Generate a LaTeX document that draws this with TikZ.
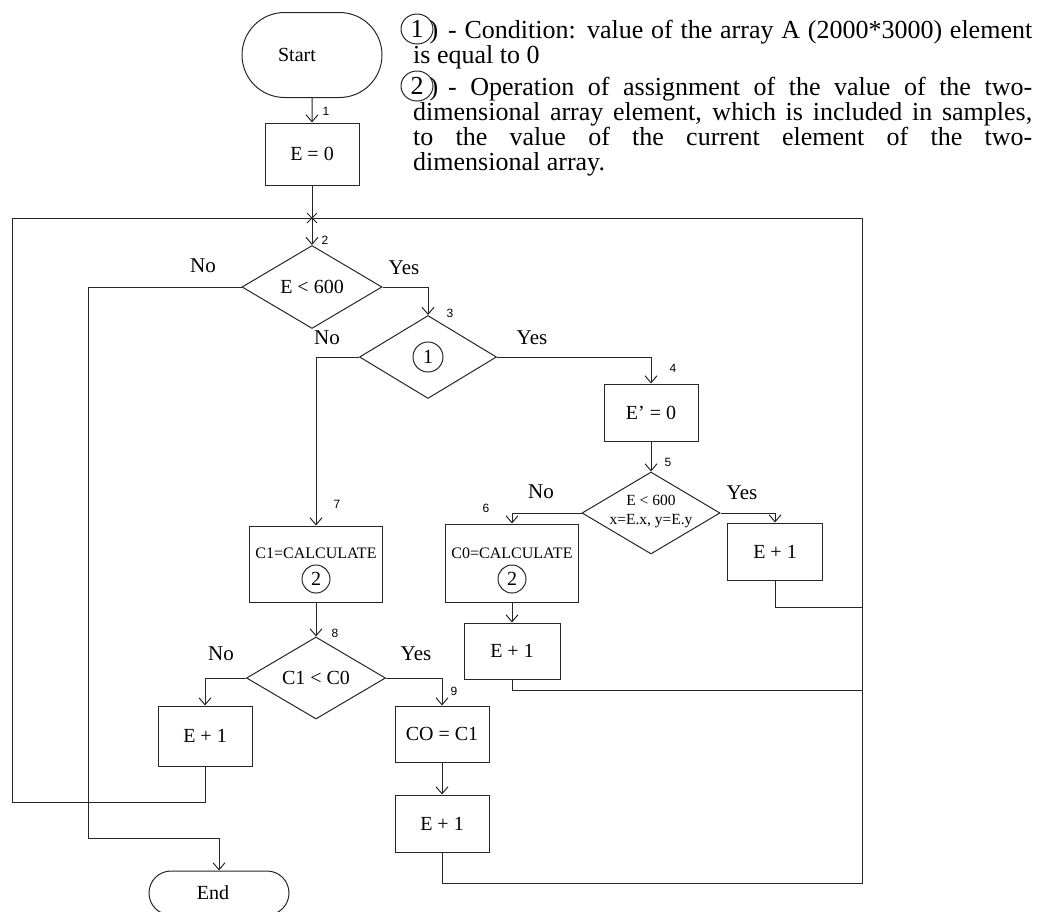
\documentclass[tikz,border=0pt]{standalone}
\usepackage{fontspec}
\setmainfont{Liberation Serif}
\newfontfamily\numfont{Liberation Sans}
\usetikzlibrary{arrows.meta,shapes.geometric,shapes.misc,calc}
\tikzset{
  flow/.style={line width=1pt, draw=black!85},
  arr/.style={flow, -{Straight Barb[length=7pt,width=12pt]}},
  procbox/.style={flow, rectangle, inner sep=0pt, font=\fontsize{20}{22}\selectfont},
  decision/.style={flow, diamond, inner sep=0pt},
  term/.style={flow, rounded rectangle, inner sep=0pt, font=\fontsize{20}{22}\selectfont},
  dtext/.style={font=\fontsize{20}{22}\selectfont, inner sep=0pt},
  ytext/.style={font=\fontsize{21}{22}\selectfont, inner sep=0pt},
  smalltext/.style={font=\fontsize{16}{18}\selectfont, inner sep=0pt},
  numlbl/.style={font=\numfont\fontsize{12}{13}\selectfont, inner sep=0pt},
  circnum/.style={flow, circle, inner sep=0pt, minimum size=28pt, font=\fontsize{20}{22}\selectfont},
  legcirc/.style={flow, ellipse, inner sep=0pt, minimum width=32pt, minimum height=30pt, font=\fontsize{26}{26}\selectfont},
  legparen/.style={inner sep=0pt, font=\fontsize{26}{26}\selectfont},
  legline/.style={anchor=base west, inner sep=0pt, font=\fontsize{26}{26}\selectfont},
}
\begin{document}
\begin{tikzpicture}[x=1pt,y=-1pt]
\useasboundingbox (0,0) rectangle (1043,911);

% legend
\node[legcirc] (lc1) at (417,29) {1};
\node[legparen, anchor=base] at (434,38) {)};
\node[legline] (lg1) at (448,38) {\makebox[584pt][s]{- Condition: value of the array A (2000*3000) element}};
\node[legline] (lg2) at (413,63) {is equal to 0};
\node[legcirc] (lc2) at (417,86) {2};
\node[legparen, anchor=base] at (434,95) {)};
\node[legline] (lg3) at (448,95) {\makebox[584pt][s]{- Operation of assignment of the value of the two-}};
\node[legline] (lg4) at (413,120) {\makebox[619pt][s]{dimensional array element, which is included in samples,}};
\node[legline] (lg5) at (413,145) {\makebox[619pt][s]{to the value of the current element of the two-}};
\node[legline] (lg6) at (413,170) {dimensional array.};

% nodes
\node[term, minimum width=140pt, minimum height=85pt] (start) at (312,55) {Start\hspace*{30pt}};
\node[procbox, minimum width=94pt, minimum height=62pt] (e0) at (312,154) {E = 0};
\coordinate (j) at (312,218);
\node[decision, minimum width=140pt, minimum height=83pt] (d1) at (312,287) {};
\node[dtext] at (d1) {E < 600};
\node[decision, minimum width=137pt, minimum height=83pt] (d2) at (428,357) {};
\node[circnum, minimum size=30pt] (c1mark) at (d2) {1};
\node[procbox, minimum width=94pt, minimum height=57pt] (ep) at (651,412.5) {E’ = 0};
\node[decision, minimum width=138pt, minimum height=82pt] (d3) at (651,513) {};
\node[font=\fontsize{15.5}{19}\selectfont, align=center, inner sep=0pt] at (651,512) {E < 600\\x=E.x, y=E.y};
\node[procbox, minimum width=133pt, minimum height=78pt] (c0) at (512,563) {};
\node[smalltext] at (512,553) {C0=CALCULATE};
\node[circnum] at (512,579) {2};
\node[procbox, minimum width=95pt, minimum height=57pt] (e1a) at (775,551.5) {E + 1};
\node[procbox, minimum width=96pt, minimum height=56pt] (e1b) at (512,651) {E + 1};
\node[procbox, minimum width=133pt, minimum height=76pt] (c1) at (316,564) {};
\node[smalltext] at (316,553) {C1=CALCULATE};
\node[circnum] at (316,579) {2};
\node[decision, minimum width=139pt, minimum height=82pt] (d4) at (316,678) {};
\node[dtext] at (d4) {C1 < C0};
\node[procbox, minimum width=94pt, minimum height=60pt] (e1c) at (205,736) {E + 1};
\node[procbox, minimum width=94pt, minimum height=56pt] (co) at (442,734) {CO = C1};
\node[procbox, minimum width=94pt, minimum height=57pt] (e1d) at (442,823.5) {E + 1};
\node[term, minimum width=140pt, minimum height=44pt] (endn) at (219,893) {End\hspace*{12pt}};

% loop trunk coordinates
\coordinate (tl) at (12,218);
\coordinate (tr) at (862,218);

% connectors
\draw[arr] (start) -- (e0);
\draw[flow] (e0) -- (j);
\draw[flow] ($(j)+(-5,-5)$) -- ($(j)+(5,5)$);
\draw[flow] ($(j)+(-5,5)$) -- ($(j)+(5,-5)$);
\draw[arr] (j) -- (d1.north);
\draw[arr] (d1.west) -| (88,838) -| (endn.north);
\draw[arr] (d1.east) -| (d2.north);
\draw[arr] (d2.west) -| (c1.north);
\draw[arr] (d2.east) -| (ep.north);
\draw[arr] (ep) -- (d3.north);
\draw[arr] (d3.west) -| (c0.north);
\draw[arr] (d3.east) -| (e1a.north);
\draw[arr] (c0) -- (e1b);
\draw[flow] (e1a.south) |- (862,607);
\draw[flow] (e1b.south) |- (862,690);
\draw[arr] (c1) -- (d4.north);
\draw[arr] (d4.west) -| (e1c.north);
\draw[arr] (d4.east) -| (co.north);
\draw[arr] (co) -- (e1d);
\draw[flow] (e1d.south) |- (862,883) -- (tr) -- (j);
\draw[flow] (e1c.south) |- (12,802) -- (tl) -- (j);

% labels
\node[numlbl] at (326,111) {1};
\node[numlbl] at (325,240) {2};
\node[numlbl] at (450,313) {3};
\node[numlbl] at (673,368) {4};
\node[numlbl] at (668,462) {5};
\node[numlbl] at (486,508) {6};
\node[numlbl] at (337,504) {7};
\node[numlbl] at (335,633) {8};
\node[numlbl] at (454,691) {9};

\node[ytext] at (203,266) {No};
\node[ytext] at (404,268) {Yes};
\node[ytext] at (327,338) {No};
\node[ytext] at (532,338) {Yes};
\node[ytext] at (541,492) {No};
\node[ytext] at (742,493) {Yes};
\node[ytext] at (221,654) {No};
\node[ytext] at (416,654) {Yes};
\end{tikzpicture}
\end{document}
